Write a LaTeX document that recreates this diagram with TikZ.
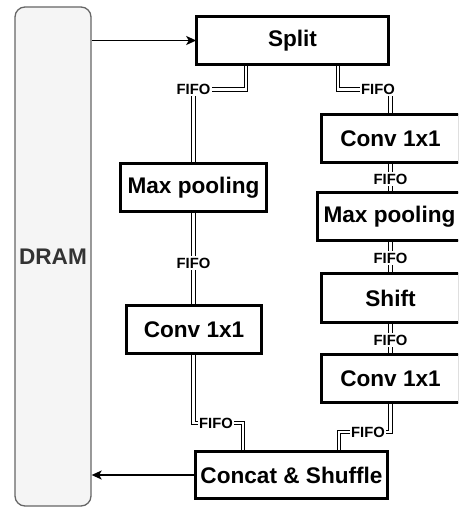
\documentclass[tikz,border=0pt]{standalone}
\usepackage{fontspec}
\setmainfont{Liberation Sans}
\usetikzlibrary{arrows.meta,calc}
\definecolor{dramfill}{HTML}{F5F5F5}
\definecolor{dramline}{HTML}{666666}
\definecolor{dramtext}{HTML}{333333}
\begin{document}
\begin{tikzpicture}[x=1pt,y=-1pt,
  blk/.style={draw=black, line width=1.6pt, fill=white, inner sep=0pt,
    font=\fontsize{22.6}{26}\selectfont\bfseries},
  fifo/.style={fill=white, inner sep=1.5pt, font=\fontsize{14.8}{17}\selectfont\bfseries},
  dlink/.style={draw=black, line width=1.1pt, double=white, double distance=2.6pt},
  arr/.style={draw=black, line width=1.4pt, -{Stealth[length=10pt,width=9pt,inset=2.5pt]}}]
\useasboundingbox (0,0) rectangle (458,508);
\clip (0,0) rectangle (458,508);

% DRAM
\node[draw=dramline, fill=dramfill, line width=1.3pt, rounded corners=10pt,
  minimum width=76pt, minimum height=499pt, inner sep=0pt,
  text=dramtext, font=\fontsize{22.6}{26}\selectfont\bfseries] (dram) at (53,256.5) {DRAM};

% boxes
\node[blk, minimum width=191pt, minimum height=47pt] (split) at (292.5,40.5) {Split};
\node[blk, minimum width=145pt, minimum height=47pt] (lmp) at (193.5,187.5) {Max pooling};
\node[blk, minimum width=134pt, minimum height=47pt] (lconv) at (194,329.5) {Conv 1x1};
\node[blk, minimum width=137pt, minimum height=47pt] (rconv1) at (390.5,138.5) {Conv 1x1};
\node[blk, minimum width=143pt, minimum height=47pt] (rmp) at (389.5,216.5) {Max pooling};
\node[blk, minimum width=137pt, minimum height=48pt] (shift) at (390.5,298) {Shift};
\node[blk, minimum width=137pt, minimum height=47pt] (rconv2) at (390.5,378.5) {Conv 1x1};
\node[blk, minimum width=191pt, minimum height=46pt] (concat) at (291.5,475) {Concat \& Shuffle};

% corner coordinates of the FIFO links
\coordinate (c1) at (246,89.5);
\coordinate (c2) at (338,89.5);
\coordinate (c7) at (243,423);
\coordinate (c8) at (339,432);

% FIFO links
\draw[dlink] (split.south -| c1) -- (c1) -- (c1 -| lmp.north) -- (lmp.north);
\draw[dlink] (split.south -| c2) -- (c2) -- (c2 -| rconv1.north) -- (rconv1.north);
\draw[dlink] (lmp.south) -- (lmp.south |- lconv.north);
\draw[dlink] (rconv1.south) -- (rconv1.south |- rmp.north);
\draw[dlink] (rmp.south -| rconv1.south) -- (shift.north);
\draw[dlink] (shift.south) -- (rconv2.north);
\draw[dlink] (lconv.south -| lmp.south) -- (lmp.south |- c7) -- (c7) -- (c7 |- concat.north);
\draw[dlink] (rconv2.south) -- (rconv2.south |- c8) -- (c8) -- (c8 |- concat.north);

% FIFO labels
\node[fifo] (f1) at (193.5,89.5) {FIFO};
\node[fifo] (f2) at (378,89) {FIFO};
\node[fifo] (f3) at (193.5,263) {FIFO};
\node[fifo] (f4) at (390.5,179) {FIFO};
\node[fifo] (f5) at (390.5,258) {FIFO};
\node[fifo] (f6) at (390.5,340) {FIFO};
\node[fifo] (f7) at (216,423) {FIFO};
\node[fifo] (f8) at (368,432) {FIFO};

% redraw box borders on top of link ends
\foreach \b in {split,lmp,lconv,rconv1,rmp,shift,rconv2,concat}
  \draw[line width=1.6pt] (\b.north west) rectangle (\b.south east);

% DRAM arrows
\draw[arr] (split.west -| dram.east) -- (split.west);
\draw[arr] (concat.west) -- (concat.west -| dram.east);
\end{tikzpicture}
\end{document}
